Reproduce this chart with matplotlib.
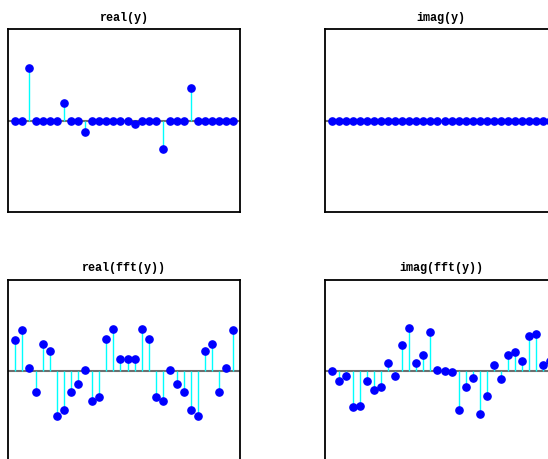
import numpy as np
import matplotlib
matplotlib.use("Agg")
import matplotlib.pyplot as plt

n = np.arange(32)

# real(y): mostly zero with a few spikes
real_y = [0, 0, 0.58, 0, 0, 0, 0, 0.19, 0, 0, -0.12, 0, 0, 0, 0, 0,
          0, -0.04, 0, 0, 0, -0.31, 0, 0, 0, 0.36, 0, 0, 0, 0, 0, 0]
imag_y = [0.0] * 32

real_fft = [0.67, 0.89, 0.06, -0.46, 0.58, 0.43, -1.00, -0.86, -0.47, -0.30, 0.02,
            -0.66, -0.58, 0.69, 0.92, 0.26, 0.26, 0.26, 0.92, 0.69, -0.58, -0.66,
            0.02, -0.30, -0.47, -0.86, -1.00, 0.43, 0.58, -0.46, 0.06, 0.89]
imag_fft = [0.00, -0.22, -0.12, -0.80, -0.77, -0.22, -0.42, -0.35, 0.18, -0.12, 0.56,
            0.94, 0.16, 0.35, 0.85, 0.02, 0.00, -0.02, -0.85, -0.35, -0.16, -0.94,
            -0.56, 0.12, -0.18, 0.35, 0.42, 0.22, 0.77, 0.80, 0.12, 0.22]

titles = ["real(y)", "imag(y)", "real(fft(y))", "imag(fft(y))"]
series = [real_y, imag_y, real_fft, imag_fft]
limits = [1.0, 1.0, 2.0, 2.0]

W, H = 548, 459
fig = plt.figure(figsize=(W / 100, H / 100), dpi=100)

# axes boxes in pixel coords (left, top, width, height), top-origin
boxes = [(8, 29.5, 232, 182.5), (325, 29.5, 232, 182.5),
         (8, 279.5, 232, 182.5), (325, 279.5, 232, 182.5)]

for (l, t, w, h), title, vals, lim in zip(boxes, titles, series, limits):
    ax = fig.add_axes([l / W, (H - t - h) / H, w / W, h / H])
    ax.axhline(0, color="#6e6e6e", lw=1.5, zorder=1)
    ml, sl, bl = ax.stem(n, vals, linefmt="-", markerfmt="o", basefmt=" ")
    plt.setp(sl, color="#00ffff", linewidth=1.0, zorder=2)
    plt.setp(ml, color="#0000ff", markersize=5.2, markeredgecolor="#0000ff", zorder=3)
    ml.set_clip_on(False)
    ax.set_xlim(-1, 32)
    ax.set_ylim(-lim, lim)
    ax.set_xticks([])
    ax.set_yticks([])
    for s in ax.spines.values():
        s.set_linewidth(1.3)
        s.set_color("black")
    ax.set_title(title, fontfamily="Liberation Mono", fontweight="bold",
                 fontsize=8.5, pad=6)

fig.savefig("out.png", dpi=100)
